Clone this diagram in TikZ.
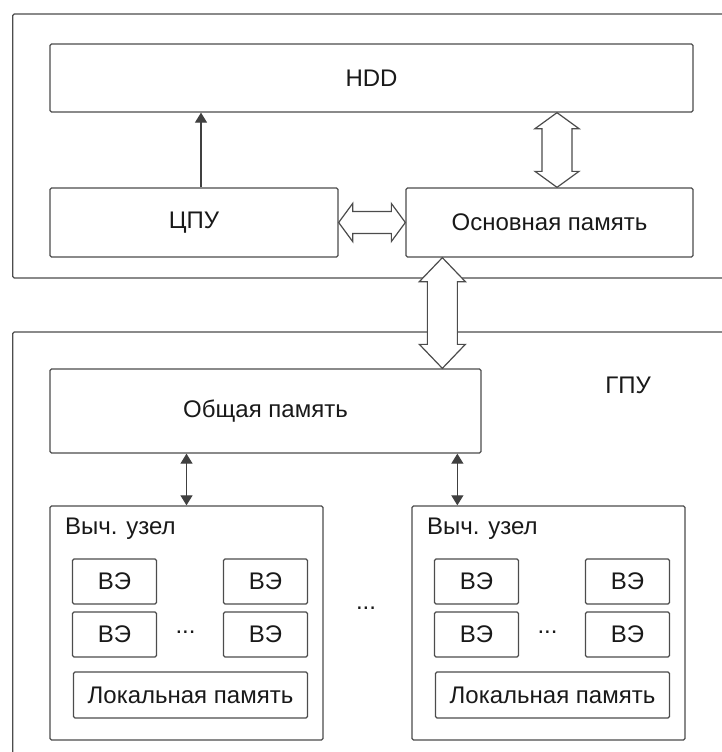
\documentclass[tikz,border=0pt]{standalone}
\usepackage{fontspec}
\setmainfont{Liberation Sans}
\usetikzlibrary{arrows.meta,calc}

% wide hollow double arrow, top point #1 to bottom point #2
% #3 half shaft, #4 half head, #5 head length
\newcommand\vbus[5]{%
    \draw[bus] (#1) -- ++(#4,#5) -- ++(#3-#4,0) -- ($(#2)+(#3,-#5)$)
        -- ($(#2)+(#4,-#5)$) -- (#2) -- ($(#2)+(-#4,-#5)$) -- ($(#2)+(-#3,-#5)$)
        -- ($(#1)+(-#3,#5)$) -- ($(#1)+(-#4,#5)$) -- cycle;}
% the same, left point #1 to right point #2
\newcommand\hbus[5]{%
    \draw[bus] (#1) -- ++(#5,-#4) -- ++(0,#4-#3) -- ($(#2)+(-#5,-#3)$)
        -- ($(#2)+(-#5,-#4)$) -- (#2) -- ($(#2)+(-#5,#4)$) -- ($(#2)+(-#5,#3)$)
        -- ($(#1)+(#5,#3)$) -- ($(#1)+(#5,#4)$) -- cycle;}

\begin{document}
\begin{tikzpicture}[x=1pt, y=-1pt,
            every node/.style = {font=\fontsize{24}{28}\selectfont, text=black!90},
            box/.style args = {#1/#2}{draw=black!70, line width=1.3pt, rounded corners=1.5pt,
                minimum width=#1pt, minimum height=#2pt, inner sep=0pt},
            frame/.style = {draw=black!70, line width=1.3pt, rounded corners=1.5pt},
            bus/.style = {draw=black!70, line width=1.2pt, fill=white, line join=miter},
            link/.style = {draw=black!75, line width=1.2pt}]
    \useasboundingbox (0,0) rectangle (721,752);

    % host side and GPU frames (open to the right)
    \draw[frame] (730,14) -| (12.7,278) -- (730,278);
    \draw[frame] (730,332) -| (12.7,760);

    \node[box=643/68] (hdd) at (371.5,78) {HDD};
    \node[box=288/69] (cpu) at (194,222.5) {ЦПУ};
    \node[box=287/69] (main) at (549.5,222.5) {Основная память};
    \node[box=431/84] (shared) at (265.5,411) {Общая память};
    \node (gpu) at (628,385) {ГПУ};

    % compute units
    \foreach \n/\cx in {1/186.5, 2/548.5} {
        \node[box=273/234] (cu\n) at (\cx,623) {};
        \node[anchor=west] (cul\n) at (\cx-125,529) {Выч. узел};
        \node[box=84/45] (pe\n a) at (\cx-72,581.5) {ВЭ};
        \node[box=84/45] (pe\n b) at (\cx+79,581.5) {ВЭ};
        \node[box=84/45] (pe\n c) at (\cx-72,634.5) {ВЭ};
        \node[box=84/45] (pe\n d) at (\cx+79,634.5) {ВЭ};
        \node (dots\n) at (\cx-1,632) {...};
        \node[box=234/46] (loc\n) at (\cx+4,695) {Локальная память};
    }
    \node (dots) at (366,608) {...};

    % connectors
    \coordinate (cpuup) at ($(cpu.north)+(7,0)$);
    \draw[link, -{Triangle[width=12pt,length=10pt]}] (cpuup) -- (hdd.south -| cpuup);

    \coordinate (hddbus) at ($(main.north)+(7.5,0)$);
    \vbus{hdd.south -| hddbus}{hddbus}{15}{22}{16}
    \hbus{cpu.east}{main.west}{11}{19}{14}
    \coordinate (gpubus) at ($(main.south west)+(37,0)$);
    \vbus{gpubus}{shared.north -| gpubus}{15}{23}{24}

    \coordinate (cu2in) at ($(cu2.north west)+(46,0)$);
    \draw[link, {Triangle[width=12pt,length=10pt]}-{Triangle[width=12pt,length=10pt]}]
        (shared.south -| cu1.north) -- (cu1.north);
    \draw[link, {Triangle[width=12pt,length=10pt]}-{Triangle[width=12pt,length=10pt]}]
        (shared.south -| cu2in) -- (cu2in);
\end{tikzpicture}
\end{document}
